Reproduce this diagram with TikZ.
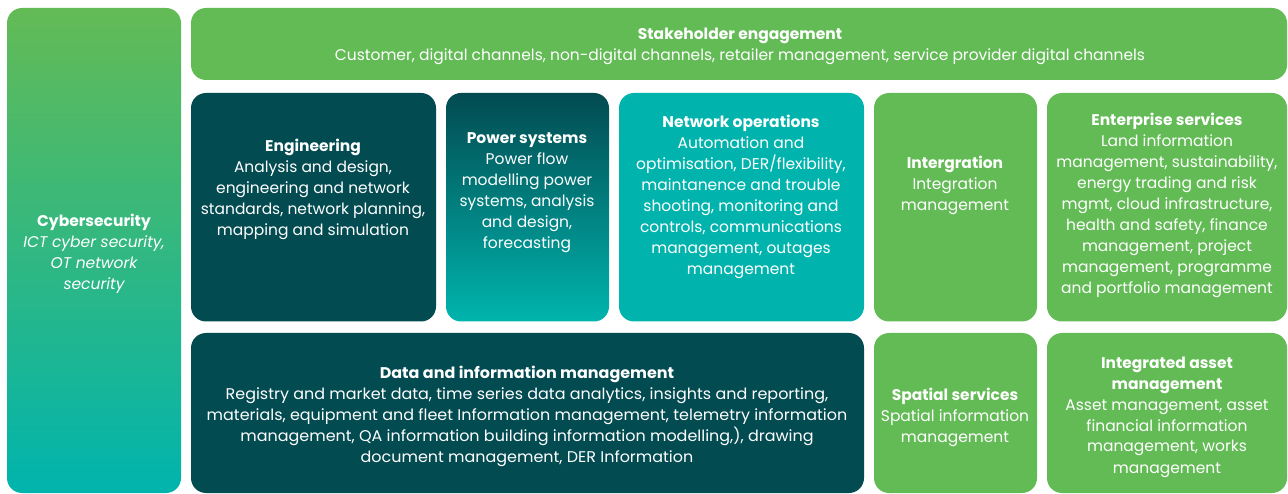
\documentclass[tikz,border=0pt]{standalone}
\usepackage{fontspec}
\setmainfont{Poppins}
\usetikzlibrary{positioning}
\definecolor{gruen}{HTML}{63BB55}
\definecolor{dunkel}{HTML}{024B51}
\definecolor{tuerkis}{HTML}{00B4AD}
\tikzset{
  kasten/.style={rounded corners=15pt},
  txt/.style={text=white, inner sep=0pt, anchor=base,
    font=\fontsize{15.5}{21}\selectfont},
}
\newcommand{\titel}[1]{\textbf{#1}}
\newcommand{\zeilen}[1]{\begin{tabular}[t]{@{}c@{}}#1\end{tabular}}

\begin{document}
\begin{tikzpicture}[x=1pt,y=-1pt]
    \useasboundingbox (0,0) rectangle (1288,494);

    % Kaesten
    \foreach \xa/\ya/\xb/\yb/\farbe in {191/8/1287/80/gruen, 191/93/436/321.5/dunkel,
        619/93/864/321.5/tuerkis, 874/93/1037/321.5/gruen, 1047/93/1287/321.5/gruen,
        191/333/864/493/dunkel, 874/333/1037/493/gruen, 1047/333/1287/493/gruen} {
        \fill[kasten, \farbe] (\xa,\ya) rectangle (\xb,\yb);
    }

    % Verlaeufe
    \shade[kasten, top color=gruen, bottom color=tuerkis] (7,8) rectangle (181,493);
    \shade[kasten, top color=dunkel, bottom color=tuerkis] (446,93) rectangle (609,321.5);

    % Texte
    \node[txt] (stake) at (740,40) {\zeilen{\titel{Stakeholder engagement}\\
        Customer, digital channels, non-digital channels, retailer management, service provider digital channels}};
    \node[txt] (cyber) at (94,227) {\zeilen{\titel{Cybersecurity}\\ \itshape ICT cyber security,\\ \itshape OT network\\ \itshape security}};
    \node[txt] (eng) at (313,152) {\zeilen{\titel{Engineering}\\ Analysis and design,\\ engineering and network\\
        standards, network planning,\\ mapping and simulation}};
    \node[txt] (power) at (527,144) {\zeilen{\titel{Power systems}\\ Power flow\\ modelling power\\ systems, analysis\\
        and design,\\ forecasting}};
    \node[txt] (netz) at (741,128) {\zeilen{\titel{Network operations}\\ Automation and\\ optimisation, DER/flexibility,\\
        maintanence and trouble\\ shooting, monitoring and\\ controls, communications\\ management, outages\\ management}};
    \node[txt] (integ) at (955,169) {\zeilen{\titel{Intergration}\\ Integration\\ management}};
    \node[txt] (enter) at (1167,126) {\zeilen{\titel{Enterprise services}\\ Land information\\ management, sustainability,\\
        energy trading and risk\\ mgmt, cloud infrastructure,\\ health and safety, finance\\ management, project\\
        management, programme\\ and portfolio management}};
    \node[txt] (daten) at (527,378) {\scalebox{1.03}[1]{\zeilen{
        \titel{Data and information management}\\
        Registry and market data, time series data analytics, insights and reporting,\\
        materials, equipment and fleet Information management, telemetry information\\
        management, QA information building information modelling,), drawing\\
        document management, DER Information}}};
    \node[txt] (raum) at (955,400) {\zeilen{\titel{Spatial services}\\ Spatial information\\ management}};
    \node[txt] (anlage) at (1167,368) {\zeilen{\titel{Integrated asset}\\ \titel{management}\\ Asset management, asset\\
        financial information\\ management, works\\ management}};
\end{tikzpicture}
\end{document}
